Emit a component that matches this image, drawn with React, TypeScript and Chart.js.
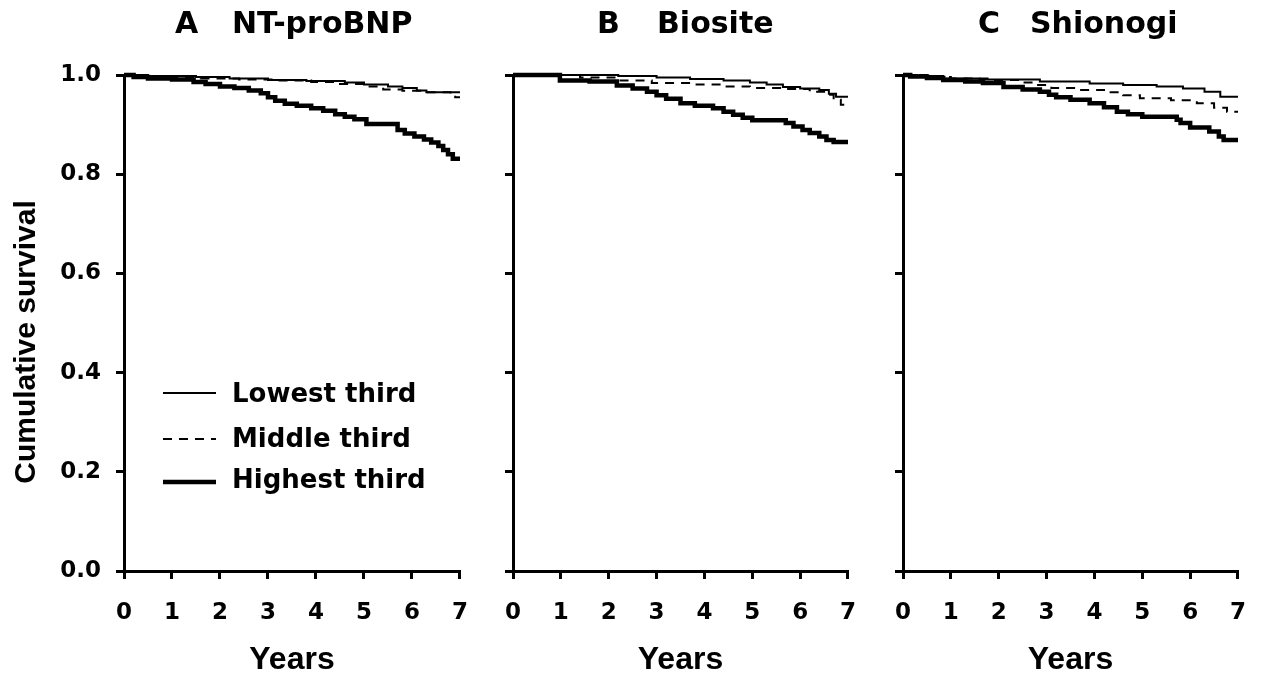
import React, { useEffect, useRef } from "react";
import { Chart, registerables } from "chart.js";

Chart.register(...registerables);

// ---------- data ----------
const xTicks = [0, 1, 2, 3, 4, 5, 6, 7];
const yTicks = [0, 0.2, 0.4, 0.6, 0.8, 1.0];
const seriesLabels = ["Lowest third", "Middle third", "Highest third"];
const panelLetters = ["A", "B", "C"];
const panelNames = ["NT-proBNP", "Biosite", "Shionogi"];
const xTitle = "Years";
const yTitle = "Cumulative survival";

// Panel A (NT-proBNP)
const aLowT = [0, 0.5, 1.5, 2.2, 3.0, 3.8, 4.6, 5.0, 5.5, 5.8, 6.1, 6.3, 7.0];
const aLowS = [1, 0.998, 0.996, 0.993, 0.99, 0.988, 0.985, 0.981, 0.977, 0.974, 0.969, 0.965, 0.965];
const aMidT = [0, 0.4, 1.0, 1.6, 2.4, 3.2, 3.9, 4.5, 5.0, 5.4, 5.8, 6.2, 6.8, 6.9, 7.0];
const aMidS = [1, 0.997, 0.994, 0.993, 0.991, 0.989, 0.986, 0.982, 0.977, 0.971, 0.968, 0.965, 0.962, 0.955, 0.955];
const aHighT = [0, 0.2, 0.5, 1.0, 1.45, 1.7, 2.0, 2.3, 2.6, 2.85, 3.0, 3.15, 3.35, 3.6, 3.9, 4.15, 4.4, 4.6, 4.8, 5.05, 5.7, 5.85, 6.05, 6.25, 6.4, 6.55, 6.65, 6.75, 6.85, 7.0];
const aHighS = [1, 0.996, 0.993, 0.991, 0.986, 0.982, 0.977, 0.974, 0.969, 0.963, 0.955, 0.948, 0.942, 0.938, 0.933, 0.928, 0.921, 0.916, 0.911, 0.901, 0.889, 0.882, 0.876, 0.87, 0.864, 0.857, 0.849, 0.84, 0.831, 0.831];

// Panel B (Biosite)
const bLowT = [0, 2.2, 3.0, 3.7, 4.4, 4.95, 5.3, 5.64, 6.0, 6.4, 6.6, 6.75, 7.0];
const bLowS = [1, 0.998, 0.995, 0.992, 0.989, 0.985, 0.981, 0.976, 0.973, 0.97, 0.962, 0.956, 0.956];
const bMidT = [0, 1.4, 2.2, 2.9, 3.7, 4.4, 4.95, 5.64, 6.2, 6.55, 6.7, 6.85, 7.0];
const bMidS = [1, 0.995, 0.989, 0.984, 0.981, 0.977, 0.974, 0.972, 0.966, 0.96, 0.95, 0.94, 0.94];
const bHighT = [0, 0.98, 1.6, 2.17, 2.5, 2.8, 3.0, 3.2, 3.5, 3.8, 4.18, 4.4, 4.6, 4.8, 5.0, 5.7, 5.86, 6.05, 6.2, 6.4, 6.55, 6.7, 7.0];
const bHighS = [1, 0.989, 0.987, 0.979, 0.973, 0.966, 0.959, 0.952, 0.943, 0.938, 0.933, 0.926, 0.92, 0.914, 0.909, 0.903, 0.896, 0.889, 0.883, 0.876, 0.869, 0.865, 0.865];

// Panel C (Shionogi)
const cLowT = [0, 0.3, 0.84, 1.6, 2.86, 3.9, 4.6, 5.3, 5.85, 6.3, 6.63, 7.0];
const cLowS = [1, 0.998, 0.993, 0.991, 0.987, 0.983, 0.98, 0.977, 0.973, 0.966, 0.956, 0.956];
const cMidT = [0, 0.5, 1.0, 1.8, 2.5, 2.8, 3.1, 3.6, 4.2, 4.6, 4.95, 5.6, 6.14, 6.5, 6.77, 7.0];
const cMidS = [1, 0.996, 0.993, 0.99, 0.985, 0.98, 0.974, 0.97, 0.965, 0.959, 0.953, 0.949, 0.943, 0.934, 0.926, 0.926];
const cHighT = [0, 0.15, 0.5, 0.84, 1.3, 1.67, 2.1, 2.5, 2.86, 3.05, 3.2, 3.5, 3.9, 4.2, 4.47, 4.7, 5.0, 5.72, 5.8, 6.0, 6.4, 6.6, 6.7, 7.0];
const cHighS = [1, 0.997, 0.994, 0.99, 0.987, 0.984, 0.976, 0.971, 0.966, 0.96, 0.955, 0.95, 0.943, 0.935, 0.926, 0.921, 0.916, 0.91, 0.903, 0.894, 0.886, 0.876, 0.869, 0.869];

const panelSeries = [
  [[aLowT, aLowS], [aMidT, aMidS], [aHighT, aHighS]],
  [[bLowT, bLowS], [bMidT, bMidS], [bHighT, bHighS]],
  [[cLowT, cLowS], [cMidT, cMidS], [cHighT, cHighS]],
];

// ---------- styles / layout ----------
const seriesStyles = [
  { borderWidth: 2, borderDash: [] as number[] },
  { borderWidth: 2, borderDash: [9, 7] },
  { borderWidth: 4.5, borderDash: [] as number[] },
];

const PAD_RIGHT = 28;
const panelsLayout = [
  { left: 0, width: 488, yAxisWidth: 124, letterDx: 51, nameDx: 108, showYLabels: true },
  { left: 480, width: 396, yAxisWidth: 33, letterDx: 84, nameDx: 144, showYLabels: false },
  { left: 870, width: 396, yAxisWidth: 33, letterDx: 75, nameDx: 127, showYLabels: false },
];

const H = 679;
const PLOT_TOP = 75;
const X_AXIS_H = 108;
const TICK_FONT = { family: "'DejaVu Sans'", size: 23, weight: "bold" as const };

const panelTitlePlugin = {
  id: "panelTitle",
  afterDraw(chart: any, _args: any, opts: any) {
    const { ctx, chartArea } = chart;
    ctx.save();
    ctx.fillStyle = "#000";
    ctx.font = "bold 30px 'DejaVu Sans'";
    ctx.textBaseline = "alphabetic";
    ctx.textAlign = "left";
    ctx.fillText(opts.letter, chartArea.left + opts.letterDx, opts.baseline);
    ctx.fillText(opts.name, chartArea.left + opts.nameDx, opts.baseline);
    ctx.restore();
  },
};

const legendPlugin = {
  id: "kmLegend",
  afterDraw(chart: any, _args: any, opts: any) {
    if (!opts || !opts.show) return;
    const { ctx } = chart;
    ctx.save();
    chart.data.datasets.forEach((ds: any, i: number) => {
      const ly = opts.lineYs[i];
      ctx.beginPath();
      ctx.strokeStyle = "#000";
      ctx.lineWidth = ds.borderWidth;
      ctx.setLineDash(ds.borderDash || []);
      ctx.moveTo(opts.x0, ly);
      ctx.lineTo(opts.x1, ly);
      ctx.stroke();
      ctx.setLineDash([]);
      ctx.fillStyle = "#000";
      ctx.font = "bold 26px 'DejaVu Sans'";
      ctx.textAlign = "left";
      ctx.textBaseline = "alphabetic";
      ctx.fillText(ds.label, opts.tx, opts.baselines[i]);
    });
    ctx.restore();
  },
};

const yTitlePlugin = {
  id: "yTitle",
  afterDraw(chart: any, _args: any, opts: any) {
    if (!opts || !opts.show) return;
    const { ctx } = chart;
    ctx.save();
    ctx.translate(opts.x, opts.y);
    ctx.rotate(-Math.PI / 2);
    ctx.fillStyle = "#000";
    ctx.font = "bold 30px 'Liberation Sans', Arial, sans-serif";
    ctx.textAlign = "center";
    ctx.textBaseline = "alphabetic";
    ctx.fillText(opts.text, 0, 0);
    ctx.restore();
  },
};

function makeConfig(p: number) {
  const lay = panelsLayout[p];
  const datasets = panelSeries[p].map(([t, s], i) => ({
    label: seriesLabels[i],
    data: t.map((x, k) => ({ x, y: s[k] })),
    borderColor: "#000",
    backgroundColor: "#000",
    borderWidth: seriesStyles[i].borderWidth,
    borderDash: seriesStyles[i].borderDash,
    stepped: true,
    pointRadius: 0,
    fill: false,
    clip: false as const,
    tension: 0,
  }));
  return {
    type: "line" as const,
    data: { datasets },
    plugins: [panelTitlePlugin, legendPlugin, yTitlePlugin],
    options: {
      animation: false as const,
      responsive: false,
      devicePixelRatio: 1,
      layout: { padding: { top: PLOT_TOP, left: 0, right: PAD_RIGHT, bottom: 0 } },
      plugins: {
        legend: { display: false },
        title: { display: false },
        tooltip: { enabled: false },
        panelTitle: { letter: panelLetters[p], name: panelNames[p], letterDx: lay.letterDx, nameDx: lay.nameDx, baseline: 33 },
        kmLegend: { show: p === 0, x0: 163, x1: 216, tx: 232, lineYs: [393, 439, 482], baselines: [402, 447, 488] },
        yTitle: { show: p === 0, text: yTitle, x: 35, y: 342 },
      },
      scales: {
        x: {
          type: "linear" as const,
          min: 0,
          max: 7,
          afterBuildTicks: (s: any) => { s.ticks = xTicks.map((v) => ({ value: v })); },
          afterFit: (s: any) => { s.height = X_AXIS_H; },
          ticks: { color: "#000", font: TICK_FONT, padding: 20, maxRotation: 0, callback: (v: any) => String(v) },
          grid: { drawOnChartArea: false, drawTicks: true, tickLength: 8, color: "#000", lineWidth: 3 },
          border: { display: true, color: "#000", width: 3 },
          title: {
            display: true,
            text: xTitle,
            color: "#000",
            font: { family: "'Liberation Sans', Arial, sans-serif", size: 32, weight: "bold" as const },
            padding: { top: 0, bottom: 0 },
          },
        },
        y: {
          type: "linear" as const,
          min: 0,
          max: 1,
          afterBuildTicks: (s: any) => { s.ticks = yTicks.map((v) => ({ value: v })); },
          afterFit: (s: any) => { s.width = lay.yAxisWidth; },
          ticks: { display: lay.showYLabels, color: "#000", font: TICK_FONT, padding: 15, callback: (v: any) => Number(v).toFixed(1) },
          grid: { drawOnChartArea: false, drawTicks: true, tickLength: 8, color: "#000", lineWidth: 3 },
          border: { display: true, color: "#000", width: 3 },
        },
      },
    },
  };
}

export default function App() {
  const r0 = useRef<HTMLCanvasElement>(null);
  const r1 = useRef<HTMLCanvasElement>(null);
  const r2 = useRef<HTMLCanvasElement>(null);

  useEffect(() => {
    const refs = [r0, r1, r2];
    const charts = refs.map((r, i) => new Chart(r.current as HTMLCanvasElement, makeConfig(i) as any));
    return () => charts.forEach((c) => c.destroy());
  }, []);

  const refs = [r0, r1, r2];
  return (
    <div style={{ position: "absolute", left: 0, top: 0, width: 1265, height: H, background: "#fff", overflow: "hidden" }}>
      {panelsLayout.map((lay, i) => (
        <canvas
          key={i}
          ref={refs[i]}
          width={lay.width}
          height={H}
          style={{ position: "absolute", left: lay.left, top: 0, width: lay.width, height: H, display: "block" }}
        />
      ))}
    </div>
  );
}
